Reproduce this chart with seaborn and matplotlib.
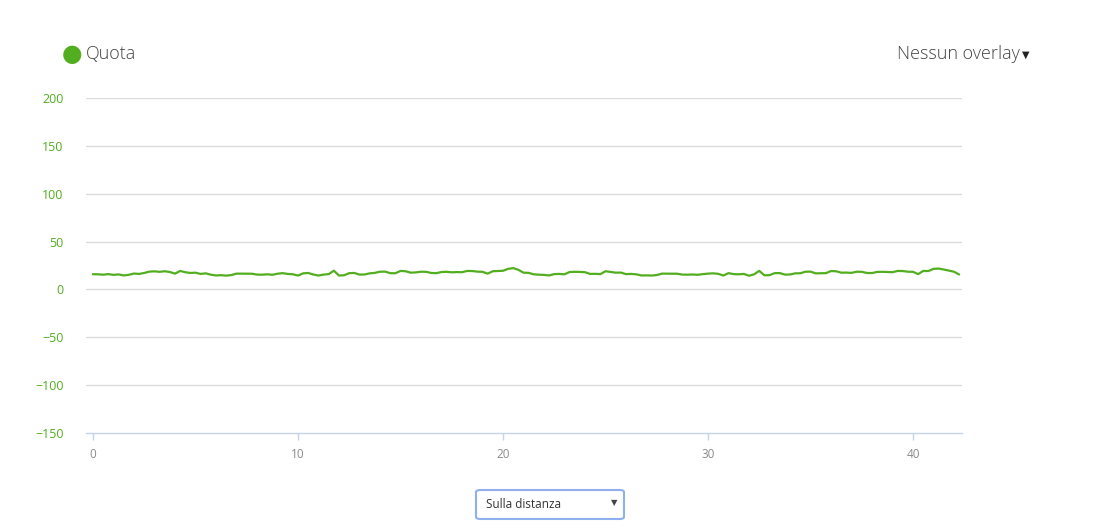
import numpy as np
import pandas as pd
import matplotlib
matplotlib.use('Agg')
import matplotlib.pyplot as plt
import seaborn as sns
from matplotlib.patches import FancyBboxPatch

# distanza (km), campionata ogni 250 m
distanza = np.round(np.arange(0, 42.26, 0.25), 2)
# quota (m)
quota = [
    15.9, 15.8, 15.4, 16.0,  15.2, 15.7, 14.6, 15.3,  16.6, 16.2, 17.2, 18.6,
    18.9, 18.4, 19.0, 18.2,  16.5, 19.3, 18.0, 17.2,  17.5, 16.2, 16.8, 15.4,
    14.6, 14.9, 14.4, 15.0,  16.5, 16.5, 16.6, 16.4,  15.5, 15.4, 15.8, 15.3,
    16.4, 17.0, 16.2, 15.8,  14.5, 16.8, 17.2, 15.6,  14.5, 15.5, 16.0, 19.6,
    14.5, 14.8, 17.0, 17.2,  15.5, 15.6, 16.8, 17.3,  18.5, 18.6, 17.0, 16.9,
    19.3, 19.0, 17.5, 17.8,  18.5, 18.4, 17.2, 17.0,  18.2, 18.4, 17.9, 18.1,
    18.0, 19.3, 19.2, 18.6,  18.4, 16.5, 19.0, 19.2,  19.5, 21.5, 22.3, 20.5,
    17.5, 17.3, 15.8, 15.4,  15.2, 14.6, 16.0, 16.2,  15.8, 18.2, 18.4, 18.3,
    18.0, 16.2, 16.3, 16.0,  19.0, 18.2, 17.5, 17.6,  16.0, 16.2, 15.8, 14.6,
    14.7, 14.5, 15.0, 16.5,  16.5, 16.6, 16.4, 15.5,  15.4, 15.6, 15.3, 16.0,
    16.5, 16.8, 16.3, 14.5,  17.0, 16.0, 15.8, 16.2,  14.3, 15.8, 19.4, 14.8,
    14.9, 17.0, 17.1, 15.5,  15.6, 16.8, 16.9, 18.5,  18.6, 16.8, 16.9, 17.0,
    19.2, 19.0, 17.5, 17.6,  17.3, 18.5, 18.4, 17.2,  17.1, 18.3, 18.4, 18.2,
    18.0, 19.3, 19.2, 18.5,  18.4, 16.0, 19.3, 19.2,  21.5, 21.8, 20.8, 19.6,
    18.5, 15.6,
]
y_ticks = [-150, -100, -50, 0, 50, 100, 150, 200]
x_ticks = [0, 10, 20, 30, 40]

verde = '#52ae1f'
df = pd.DataFrame({'Distanza': distanza, 'Quota': quota})

sns.set_theme(style='white')
plt.rcParams['font.family'] = ['Open Sans', 'DejaVu Sans']

W, H = 1104, 532
fig = plt.figure(figsize=(W / 100, H / 100), dpi=100)
ax = fig.add_axes([86 / W, 99 / H, 876 / W, 335 / H])

sns.lineplot(data=df, x='Distanza', y='Quota', ax=ax, color=verde, linewidth=1.6)

ax.set_xlim(-0.34, 42.39)
ax.set_ylim(-150, 200)
ax.set_yticks(y_ticks)
ax.set_xticks(x_ticks)
ax.set_xlabel('')
ax.set_ylabel('')
for s in ['top', 'right', 'left']:
    ax.spines[s].set_visible(False)
ax.spines['bottom'].set_color('#c5d4e6')
ax.spines['bottom'].set_linewidth(1)
for v in y_ticks[1:]:
    ax.axhline(v, color='#dcdcdc', linewidth=1, zorder=0)

ax.tick_params(axis='y', length=0, pad=16, labelsize=9, labelcolor=verde)
ax.tick_params(axis='x', length=5, width=1, color='#c5d4e6', pad=6,
               labelsize=8.5, labelcolor='#8a8a8a', bottom=True)
ax.set_yticklabels([str(v).replace('-', '\u2212') for v in y_ticks])

# legenda e overlay
fig.text(72 / W, 1 - 54 / H, '\u25cf', color=verde, fontsize=17,
         ha='center', va='center', family=['DejaVu Sans'])
fig.text(86 / W, 1 - 54 / H, 'Quota', color='#444444', fontsize=13,
         ha='left', va='center', fontweight='light')
fig.text(1020 / W, 1 - 54 / H, 'Nessun overlay', color='#444444', fontsize=13,
         ha='right', va='center', fontweight='light')
fig.text(1026 / W, 1 - 55 / H, '\u25bc', color='#222222', fontsize=7,
         ha='center', va='center', family=['DejaVu Sans'])

# menu a tendina
box = FancyBboxPatch((476 / W, 1 - 519 / H), 148 / W, 29 / H,
                     boxstyle='round,pad=0,rounding_size=0.004',
                     transform=fig.transFigure, facecolor='white',
                     edgecolor='#8fb0ee', linewidth=1.5)
fig.patches.append(box)
fig.text(486 / W, 1 - 504 / H, 'Sulla distanza', color='#333333', fontsize=8.5,
         ha='left', va='center')
fig.text(614 / W, 1 - 503 / H, '\u25bc', color='#444444', fontsize=6,
         ha='center', va='center', family=['DejaVu Sans'])

fig.savefig('out.png', dpi=100)
